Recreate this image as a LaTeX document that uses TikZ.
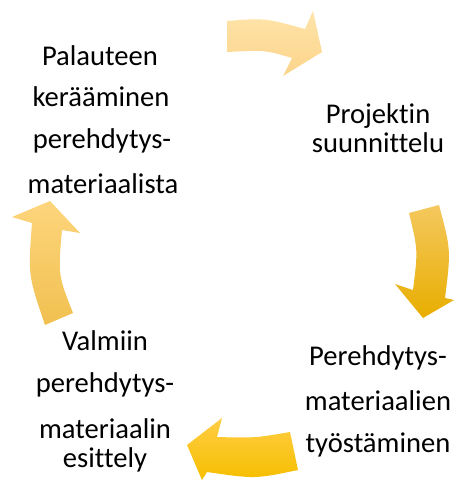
\documentclass[tikz,border=0pt]{standalone}
\usepackage{fontspec}
\setmainfont[Ligatures={NoCommon}]{Carlito}
\begin{document}
\begin{tikzpicture}[x=1pt,y=-1pt,
  lbl/.style={anchor=base,inner sep=0pt,font=\fontsize{28.6}{34}\selectfont,text=black},
  arr/.style={draw=none}]
\definecolor{aOneT}{HTML}{FEE4AA}\definecolor{aOneB}{HTML}{FCD48A}
\definecolor{aTwoT}{HTML}{F4C85E}\definecolor{aTwoB}{HTML}{E8AE00}
\definecolor{aThrT}{HTML}{FFCD45}\definecolor{aThrB}{HTML}{F6BF00}
\definecolor{aFouT}{HTML}{FDD57C}\definecolor{aFouB}{HTML}{F1C050}
\useasboundingbox (0,0) rectangle (455,482);
% arrow 1 (top)
\shade[arr,top color=aOneT,bottom color=aOneB]
  (227,21) .. controls (265,18) .. (305,29) -- (313,11) -- (322,52) -- (283,76)
  -- (292,58) .. controls (265,50) .. (227,52) -- cycle;
% arrow 2 (right)
\shade[arr,top color=aTwoT,bottom color=aTwoB]
  (409,213) -- (439,205) .. controls (451,250) .. (445,298) -- (454,300)
  -- (423,318) -- (395,284) -- (413,290) .. controls (418,250) .. (409,213) -- cycle;
% arrow 3 (bottom)
\shade[arr,top color=aThrT,bottom color=aThrB]
  (290,432) -- (298,470) .. controls (255,479) .. (207,472) -- (202,480)
  -- (187,445) -- (222,418) -- (217,437) .. controls (255,438) .. (290,432) -- cycle;
% arrow 4 (left)
\shade[arr,top color=aFouT,bottom color=aFouB]
  (73,313) -- (45,325) .. controls (28,275) .. (32,223) -- (12,217)
  -- (50,201) -- (80,233) -- (62,230) .. controls (58,275) .. (73,313) -- cycle;
% texts
\node[lbl] (t1a) at (100,65) {Palauteen};
\node[lbl] (t1b) at (101,106) {kerääminen};
\node[lbl] (t1c) at (102,148) {perehdytys-};
\node[lbl] (t1d) at (103,193) {materiaalista};
\node[lbl] (t2a) at (378,123) {Projektin};
\node[lbl] (t2b) at (378,152) {suunnittelu};
\node[lbl] (t3a) at (378,365) {Perehdytys-};
\node[lbl] (t3b) at (378,410) {materiaalien};
\node[lbl] (t3c) at (378,452) {työstäminen};
\node[lbl] (t4a) at (105,350) {Valmiin};
\node[lbl] (t4b) at (105,392) {perehdytys-};
\node[lbl] (t4c) at (105,438) {materiaalin};
\node[lbl] (t4d) at (105,467) {esittely};
\end{tikzpicture}
\end{document}
